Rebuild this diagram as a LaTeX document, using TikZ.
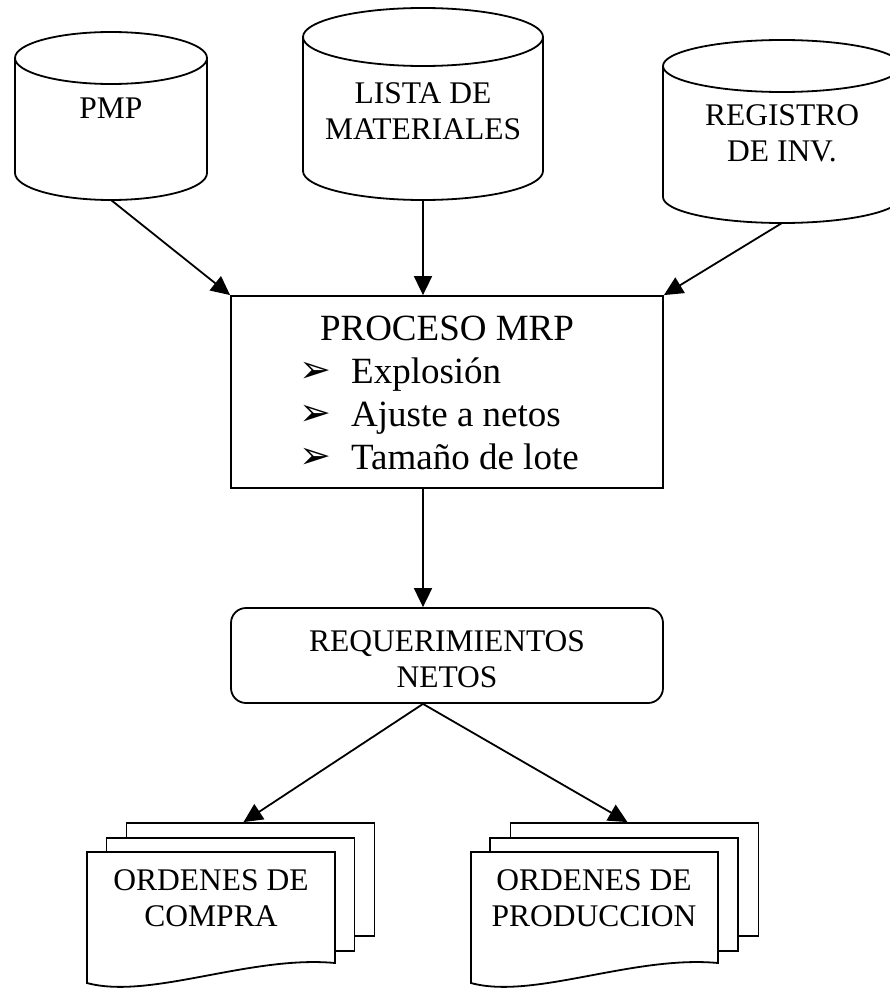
\documentclass[tikz,border=0pt]{standalone}
\usepackage{fontspec}
\setmainfont{Liberation Serif}
\newfontfamily\dingfont{DejaVu Sans}
\usetikzlibrary{arrows.meta,positioning,calc}
\newcommand{\itembul}{\raisebox{1pt}{\dingfont\fontsize{38}{38}\selectfont ➢}}

\begin{document}
\begin{tikzpicture}[x=1pt, y=-1pt, >={Triangle[length=19pt,width=18pt]}, line width=1.8pt, font=\fontsize{31.5}{36}\selectfont]
\tikzstyle{dbtext}=[align=center, inner sep=0pt]
\tikzstyle{procbox}=[draw, rectangle, minimum width=432pt, minimum height=192pt, align=center, font=\fontsize{37}{43}\selectfont]
\tikzstyle{reqbox}=[draw, rectangle, rounded corners=15pt, minimum width=432pt, minimum height=95pt, align=center]
\tikzstyle{sheet}=[draw, fill=white, minimum width=248pt, minimum height=113pt, inner sep=0pt]
\tikzstyle{doctext}=[align=center, inner sep=0pt]

\useasboundingbox (0,0) rectangle (890,990);

% archivos de entrada (cilindros)
\draw (15,58) -- (15,173) arc[start angle=180, end angle=360, x radius=96pt, y radius=27pt] -- (207,58);
\draw (111,58) ellipse [x radius=96pt, y radius=26pt];
\coordinate (pmp-base) at (111,200);
\node[dbtext] (pmp) at (111,108) {PMP};

\draw (303,37) -- (303,171) arc[start angle=180, end angle=360, x radius=120pt, y radius=29pt] -- (543,37);
\draw (423,37) ellipse [x radius=120pt, y radius=29pt];
\coordinate (lista-base) at (423,200);
\node[dbtext] (lista) at (423,111) {LISTA DE\\MATERIALES};

\draw (663,66) -- (663,197) arc[start angle=180, end angle=360, x radius=119pt, y radius=26pt] -- (901,66);
\draw (782,66) ellipse [x radius=119pt, y radius=26pt];
\coordinate (reg-base) at (782,223);
\node[dbtext] (reg) at (782,133) {REGISTRO\\DE INV.};

% proceso
\node[procbox] (mrp) at (447,392) {\rule{0pt}{38pt}PROCESO MRP\\\begin{tabular}[t]{@{}l@{\hspace{20pt}}l@{\hspace{16pt}}}\itembul & Explosión\\ \itembul & Ajuste a netos\\ \itembul & Tamaño de lote\end{tabular}};
\node[reqbox] (req) at (447,655.5) {\rule{0pt}{28pt}REQUERIMIENTOS\\NETOS};

% documentos de salida
\node[sheet] (compra3) at (250.5,879.5) {};
\node[sheet] (compra2) at (230.5,894.5) {};
\filldraw[fill=white] (87,852) -- (335,852) -- (335,963) .. controls (250,955) and (150,1000) .. (87,983) -- cycle;
\node[doctext] (compra) at (211,898) {ORDENES DE\\COMPRA};

\node[sheet] (prod3) at (634.5,879.5) {};
\node[sheet] (prod2) at (614,894.5) {};
\filldraw[fill=white] (471,852) -- (718,852) -- (718,963) .. controls (633,955) and (533,1000) .. (471,983) -- cycle;
\node[doctext] (prod) at (594,898) {ORDENES DE\\PRODUCCION};

\draw[->] (pmp-base) -- (mrp.north west);
\draw[->] (lista-base) -- (lista-base |- mrp.north);
\draw[->] (reg-base) -- (mrp.north east);
\draw[->] (mrp.south -| lista-base) -- (req.north -| lista-base);
\draw[->] (req.south -| lista-base) -- ([xshift=-7pt]compra3.north);
\draw[->] (req.south -| lista-base) -- ([xshift=-7pt]prod3.north);
\end{tikzpicture}
\end{document}
